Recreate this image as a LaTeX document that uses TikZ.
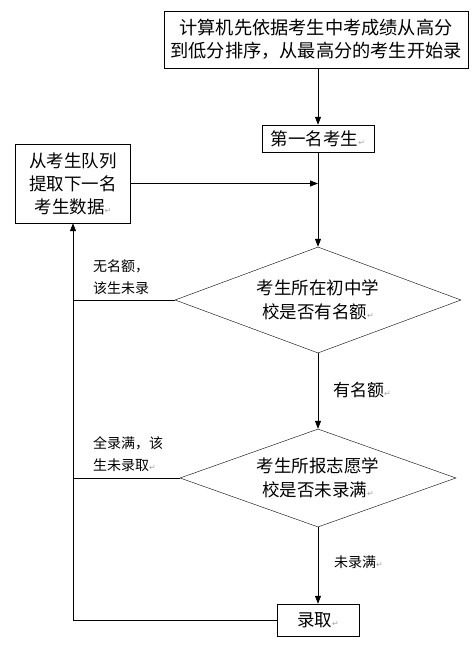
\documentclass[tikz,border=0pt]{standalone}
\usepackage{fontspec}
\newfontfamily\cjk{Noto Sans CJK SC}
\newfontfamily\symfont{DejaVu Sans}
\usetikzlibrary{arrows.meta,shapes.geometric}
\newcommand\retmark{{\symfont\fontsize{8}{8}\selectfont\textcolor{black!35}{↵}}}
\tikzset{
  box/.style={draw, inner sep=0pt, align=center, font=\cjk\fontsize{17.5}{23}\selectfont},
  dia/.style={draw, shape=diamond, inner sep=0pt},
  diatext/.style={align=center, inner sep=0pt, font=\cjk\fontsize{17.5}{24}\selectfont},
  lab/.style={align=left, inner sep=0pt, font=\cjk\fontsize{14}{22}\selectfont},
  biglab/.style={align=left, inner sep=0pt, font=\cjk\fontsize{17}{22}\selectfont},
  conn/.style={line width=0.8pt},
  arr/.style={conn, -{Triangle[length=8pt,width=6pt]}}
}
\begin{document}
\begin{tikzpicture}[x=1pt,y=-1pt]
\useasboundingbox[fill=white] (0,0) rectangle (472,660);
% boxes
\node[box, minimum width=304pt, minimum height=57pt, font=\cjk\fontsize{18.2}{23}\selectfont] (start) at (316,39.5)
  {计算机先依据考生中考成绩从高分\\到低分排序，从最高分的考生开始录};
\node[box, minimum width=112pt, minimum height=27pt] (first) at (318,138.5) {第一名考生\retmark};
\node[box, minimum width=115pt, minimum height=79pt] (next) at (73,183.5)
  {从考生队列\\提取下一名\\考生数据\retmark};
\node[dia, minimum width=286pt, minimum height=106pt] (d1) at (318,300) {};
\node[diatext] (t1) at (d1.center) {考生所在初中学\\校是否有名额\retmark};
\node[dia, minimum width=276pt, minimum height=98pt] (d2) at (318,478) {};
\node[diatext] (t2) at (d2.center) {考生所报志愿学\\校是否未录满\retmark};
\node[box, minimum width=82pt, minimum height=32pt] (admit) at (318,620) {录取\retmark};
\coordinate (merge) at (first.south |- next.east);
% labels
\node[lab, anchor=west] (l1) at (93,277) {无名额，\\该生未录};
\node[lab, anchor=west] (l2) at (93,454) {全录满，该\\生未录取\retmark};
\node[biglab, anchor=west] (l3) at (333,390) {有名额\retmark};
\node[lab, anchor=west] (l4) at (334,562) {未录满\retmark};
% connectors
\draw[arr] (start.south -| first.north) -- (first.north);
\draw[conn] (first.south) -- (merge);
\draw[arr] (next.east) -- (merge);
\draw[arr] (merge) -- (d1.north);
\draw[arr] (d1.south) -- (d2.north);
\draw[arr] (d2.south) -- (admit.north);
\draw[arr] (admit.west) -| (next.south);
\draw[conn] (d1.west) -- (d1.west -| next.south);
\draw[conn] (d2.west) -- (d2.west -| next.south);
\end{tikzpicture}
\end{document}
